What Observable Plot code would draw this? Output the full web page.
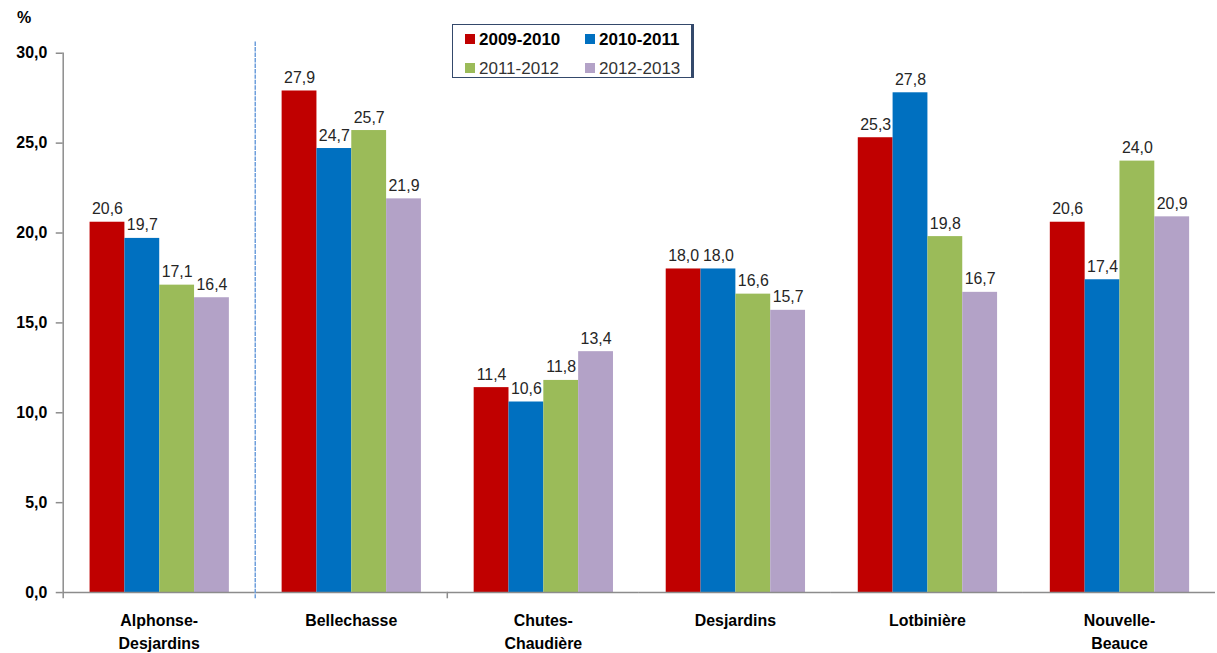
<!DOCTYPE html>
<html><head><meta charset="utf-8">
<script src="https://cdn.jsdelivr.net/npm/d3@7"></script>
<script src="https://cdn.jsdelivr.net/npm/@observablehq/plot@0.6"></script>
<style>
html,body{margin:0;padding:0;overflow:hidden;background:#fff;}
#wrap{position:relative;width:1217px;height:653px;overflow:hidden;font-family:"Liberation Sans",Arial,sans-serif;}
#chart{position:absolute;left:0;top:0;}
#unit{position:absolute;left:17px;top:9px;font-weight:bold;font-size:16px;color:#000;}
#legend{position:absolute;left:452px;top:24px;width:238px;height:52px;border:1px solid #34496b;box-shadow:2px 0 0 #34496b;background:#fff;}
.item{position:absolute;font-size:17px;line-height:20px;white-space:nowrap;}
.sw{display:inline-block;width:10px;height:10px;margin-right:4px;vertical-align:1px;}
</style></head><body>
<div id="wrap"><div id="chart"></div><div id="unit">%</div><div id="legend"></div></div>
<script>
const categories = ["Alphonse-Desjardins","Bellechasse","Chutes-Chaudière","Desjardins","Lotbinière","Nouvelle-Beauce"];
const series = ["2009-2010","2010-2011","2011-2012","2012-2013"];
const colors = ["#C00000","#0070C0","#9BBB59","#B3A2C7"];
const v20092010 = [20.6, 27.9, 11.4, 18.0, 25.3, 20.6];
const v20102011 = [19.7, 24.7, 10.6, 18.0, 27.8, 17.4];
const v20112012 = [17.1, 25.7, 11.8, 16.6, 19.8, 24.0];
const v20122013 = [16.4, 21.9, 13.4, 15.7, 16.7, 20.9];
const yTicks = [0, 5, 10, 15, 20, 25, 30];

const values = [v20092010, v20102011, v20112012, v20122013];
const data = categories.flatMap((c, i) => series.map((s, j) => ({category: c, series: s, value: values[j][i]})));
const fmt = d => d.toFixed(1).replace(".", ",");

const chart = Plot.plot({
  width: 1223, height: 653,
  marginLeft: 61, marginRight: 0, marginTop: 53, marginBottom: 58,
  style: {fontFamily: '"Liberation Sans", Arial, sans-serif', background: "transparent", overflow: "visible"},
  fx: {domain: categories, padding: 0, label: null},
  x: {domain: series, paddingInner: 0, paddingOuter: 0.7, axis: null},
  y: {domain: [0, 30], axis: null},
  color: {domain: series, range: colors},
  marks: [
    Plot.barY(data, {fx: "category", x: "series", y: "value", fill: "series"}),
    Plot.ruleY([0], {stroke: "#8c8c8c", strokeWidth: 1.5}),
    Plot.frame({anchor: "left", fx: [categories[0]], stroke: "#8c8c8c", strokeWidth: 1.5, insetBottom: -5}),
    Plot.frame({anchor: "left", fx: [categories[1]], stroke: "#6f9fdc", strokeWidth: 1.5, strokeDasharray: "3,2.5", insetTop: -11, insetBottom: -5}),
    Plot.frame({anchor: "left", fx: categories.slice(2), stroke: "#8c8c8c", strokeWidth: 1.5, insetTop: 542, insetBottom: -5}),
    Plot.text(data, {fx: "category", x: "series", y: "value", text: d => fmt(d.value), lineAnchor: "bottom", dy: -8, fontSize: 16, fill: "#262626"}),
    Plot.axisY({ticks: yTicks, tickFormat: fmt, tickSize: 7, tickPadding: 9, fontSize: 16, fontWeight: "bold", stroke: "#8c8c8c", fill: "#000", strokeWidth: 1.5, label: null}),
    Plot.axisFx({anchor: "bottom", tickSize: 0, tickPadding: 17, fontSize: 16, fontWeight: "bold", lineHeight: 1.45, fill: "#000", label: null, tickFormat: d => d.replace("-", "-\n")})
  ]
});
document.getElementById("chart").appendChild(chart);

const legend = document.getElementById("legend");
const pos = [[12, 6], [132, 6], [12, 35], [132, 35]];
series.forEach((s, i) => {
  const el = document.createElement("div");
  el.className = "item";
  el.style.left = pos[i][0] + "px";
  el.style.top = (pos[i][1] - 1) + "px";
  el.style.fontWeight = i < 2 ? "bold" : "normal";
  el.style.color = i < 2 ? "#000" : "#333";
  el.innerHTML = `<span class="sw" style="background:${colors[i]}"></span>${s}`;
  legend.appendChild(el);
});
</script>
</body></html>
